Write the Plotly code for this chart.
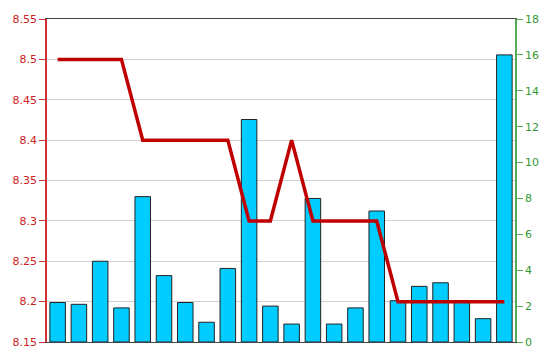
import plotly.graph_objects as go

categories = [str(i) for i in range(1, 23)]
bar_values = [2.2, 2.1, 4.5, 1.9, 8.1, 3.7, 2.2, 1.1, 4.1, 12.4, 2.0,
              1.0, 8.0, 1.0, 1.9, 7.3, 2.3, 3.1, 3.3, 2.25, 1.3, 16.0]
line_values = [8.5, 8.5, 8.5, 8.5, 8.4, 8.4, 8.4, 8.4, 8.4, 8.3, 8.3,
               8.4, 8.3, 8.3, 8.3, 8.3, 8.2, 8.2, 8.2, 8.2, 8.2, 8.2]
left_ticks = [8.15, 8.2, 8.25, 8.3, 8.35, 8.4, 8.45, 8.5, 8.55]
right_ticks = [0, 2, 4, 6, 8, 10, 12, 14, 16, 18]

fig = go.Figure()
fig.add_trace(go.Bar(
    x=categories, y=bar_values, yaxis="y",
    marker=dict(color="#00CCFF", line=dict(color="#222222", width=1)),
    showlegend=False,
))
fig.add_trace(go.Scatter(
    x=categories, y=line_values, yaxis="y2", mode="lines",
    line=dict(color="#C00000", width=3.5),
    showlegend=False,
))

font = dict(family="DejaVu Sans", size=11)
fig.update_layout(
    width=550, height=364,
    margin=dict(l=47, r=35, t=19, b=22),
    paper_bgcolor="white", plot_bgcolor="white",
    bargap=0.27,
    xaxis=dict(
        type="category", range=[-0.5, 21.5], showticklabels=False,
        showgrid=False, showline=True, mirror=True,
        linecolor="#444444", linewidth=1, ticks="", zeroline=False,
    ),
    yaxis=dict(
        side="right", range=[0, 18], tickvals=right_ticks,
        showgrid=False, zeroline=False,
        showline=True, linecolor="#55AA55", linewidth=1.5,
        ticks="outside", ticklen=6, tickcolor="#55AA55",
        tickfont=dict(color="#339933", **font),
    ),
    yaxis2=dict(
        side="left", overlaying="y", range=[8.15, 8.55], tickvals=left_ticks,
        ticktext=[f"{v:g}" for v in left_ticks],
        showgrid=True, gridcolor="#D0D0D0", gridwidth=1, zeroline=False,
        showline=True, linecolor="#CC3333", linewidth=1.5,
        ticks="outside", ticklen=6, tickcolor="#CC3333",
        tickfont=dict(color="#CC2222", **font),
    ),
)

fig.write_html("out.html")
